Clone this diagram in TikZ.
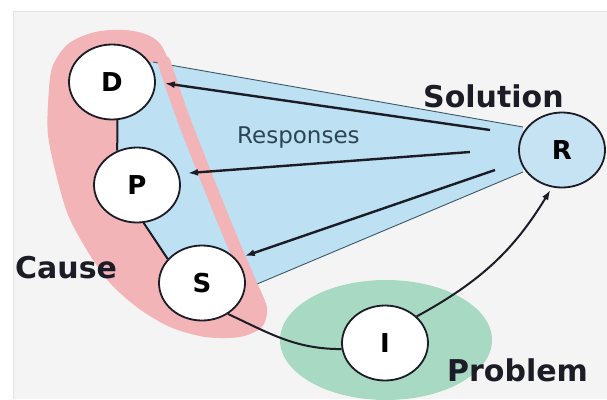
\documentclass[tikz,border=0pt]{standalone}
\usepackage{fontspec}
\setmainfont{DejaVu Sans}
\usetikzlibrary{arrows.meta,shapes.geometric}
\definecolor{bggray}{HTML}{F4F4F4}
\definecolor{framecol}{HTML}{E2E2E2}
\definecolor{causepink}{HTML}{F2B4B7}
\definecolor{solblue}{HTML}{BDE0F3}
\definecolor{rblue}{HTML}{C6E3F4}
\definecolor{probgreen}{HTML}{A8D9C3}
\definecolor{linecol}{HTML}{1C1C26}
\definecolor{edgecol}{HTML}{3A5868}
\definecolor{respcol}{HTML}{2C4553}
\begin{document}
\begin{tikzpicture}[x=1pt,y=-1pt,
	ring/.style={ellipse,draw=linecol,line width=1.8pt,fill=white,minimum width=86pt,minimum height=75pt,inner sep=0pt,font=\fontsize{26}{30}\selectfont\bfseries},
	link/.style={draw=linecol,line width=2pt},
	resp/.style={draw=linecol,line width=2.4pt,-{Latex[length=10pt,width=7pt]},shorten >=9pt},
	tag/.style={anchor=base west,inner sep=0pt,font=\fontsize{30}{36}\selectfont\bfseries,text=linecol}]
	\useasboundingbox (0,0) rectangle (607,399);
	\fill[white] (0,0) rectangle (607,399);
	\fill[bggray] (13,11) rectangle (607,399);
	\draw[framecol,line width=0.8pt] (13,399)--(13,11)--(607,11);
	% cause region
	\fill[causepink] plot[smooth cycle] coordinates {(48,105) (52,68) (68,44) (95,32) (125,30) (150,36) (165,52) (186,112) (211,175) (236,236) (257,283) (267,308) (262,327) (240,337) (205,337) (170,327) (138,308) (110,283) (88,252) (68,215) (55,170) (48,135)};
	% solution fan
	\fill[solblue] (153,62)--(523,127)--(523,172)--(250,287)--(202,283)--(167,258)--(145,227)--(137,185)--(116,153)--(118,119)--(112,82)--cycle;
	\draw[edgecol,line width=0.9pt] (153,62)--(523,127);
	\draw[edgecol,line width=0.9pt] (250,287)--(523,172);
	\draw[causepink,line width=13pt,line cap=round] plot[smooth] coordinates {(164,62) (181,112) (205,174) (230,236) (250,283) (258,302)};
	% problem region
	\fill[probgreen] (386,340) ellipse [x radius=106, y radius=60];
	\node[ring] (D) at (112,82) {D};
	\node[ring] (P) at (137,185) {P};
	\node[ring] (S) at (202,283) {S};
	\node[ring] (I) at (385,343) {I};
	\node[ring,fill=rblue] (R) at (562,150) {R};
	\coordinate (rD) at (490,130);
	\coordinate (rP) at (470,152);
	\coordinate (rS) at (495,170);
	\draw[link] (D.-82)--(P.120);
	\draw[link] (P.-80)--(S.145);
	\draw[link] (S.-50) to[out=-25,in=180] (I.188);
	\draw[link,-{Latex[length=10pt,width=7pt]},shorten >=3pt] (I.40) to[bend right=15] (R.-105);
	\draw[resp] (rD)--(D.east);
	\draw[resp] (rP)--(P.15);
	\draw[resp] (rS)--(S.35);
	\node[anchor=base west,inner sep=0pt,font=\fontsize{23}{28}\selectfont,text=respcol] (resp) at (237,143) {Responses};
	\node[tag] (sol) at (423,107) {Solution};
	\node[tag] (cause) at (15,278) {Cause};
	\node[tag] (prob) at (447,381) {Problem};
\end{tikzpicture}
\end{document}
